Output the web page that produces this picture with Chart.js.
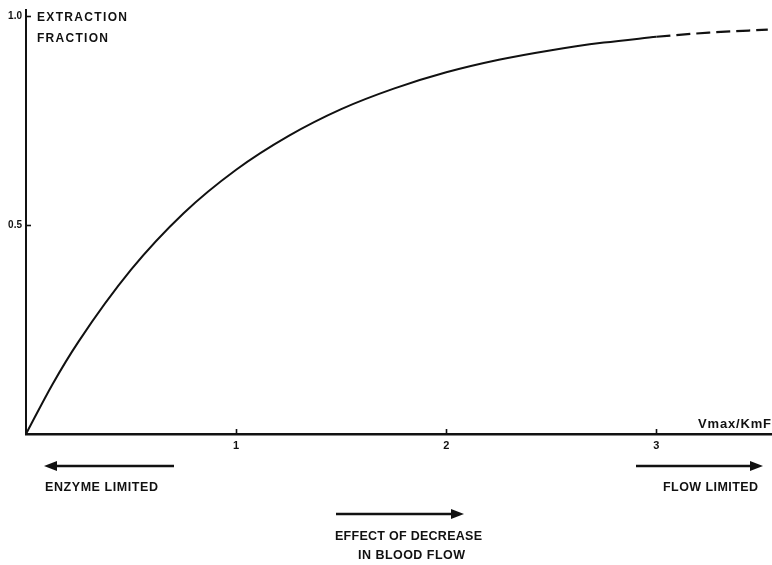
<!DOCTYPE html>
<html>
<head>
<meta charset="utf-8">
<script src="https://cdn.jsdelivr.net/npm/chart.js@4/dist/chart.umd.min.js"></script>
<style>
  html, body { margin: 0; padding: 0; background: #fff; }
  #wrap { width: 772px; height: 565px; position: relative; }
</style>
</head>
<body>
<div id="wrap"><canvas id="c" width="772" height="565"></canvas></div>
<script>
// ---- data ----
const xSolid = [0, 0.125, 0.25, 0.5, 0.75, 1.0, 1.25, 1.5, 1.75, 2.0, 2.25, 2.5, 2.75, 3.0];
const ySolid = [0, 0.118, 0.221, 0.393, 0.528, 0.632, 0.713, 0.777, 0.826, 0.865, 0.895, 0.918, 0.936, 0.950];
const xDashed = [3.0, 3.25, 3.53];
const yDashed = [0.950, 0.960, 0.967];
const xTickValues = [1, 2, 3];
const yTickValues = [0.5, 1.0];
const yTitleLines = ['EXTRACTION', 'FRACTION'];
const xTitle = 'Vmax/KmF';
const leftNote = 'ENZYME LIMITED';
const rightNote = 'FLOW LIMITED';
const middleNote = ['EFFECT OF DECREASE', 'IN BLOOD FLOW'];

const FONT = '"Liberation Sans", Arial, Helvetica, sans-serif';

function spacedText(ctx, text, x, y, size, targetW, align) {
  ctx.save();
  ctx.font = 'bold ' + size + 'px ' + FONT;
  ctx.letterSpacing = '0px';
  const w = ctx.measureText(text).width;
  const sp = (targetW - w) / Math.max(1, text.length - 1);
  ctx.letterSpacing = sp + 'px';
  ctx.textBaseline = 'alphabetic';
  ctx.textAlign = 'left';
  let sx = x;
  if (align === 'right') sx = x - targetW;
  ctx.fillStyle = '#111';
  ctx.fillText(text, sx, y);
  ctx.restore();
}

function arrow(ctx, x1, x2, y) {
  const dir = Math.sign(x2 - x1);
  const head = 13, half = 5;
  ctx.save();
  ctx.strokeStyle = '#111';
  ctx.fillStyle = '#111';
  ctx.lineWidth = 2.4;
  ctx.beginPath();
  ctx.moveTo(x1, y);
  ctx.lineTo(x2 - dir * head, y);
  ctx.stroke();
  ctx.beginPath();
  ctx.moveTo(x2, y);
  ctx.lineTo(x2 - dir * head, y - half);
  ctx.lineTo(x2 - dir * head, y + half);
  ctx.closePath();
  ctx.fill();
  ctx.restore();
}

const decor = {
  id: 'decor',
  afterDraw(chart) {
    const ctx = chart.ctx;
    const xs = chart.scales.x, ys = chart.scales.y;
    const ca = chart.chartArea;
    ctx.save();
    ctx.strokeStyle = '#111';
    ctx.lineWidth = 1.6;
    xTickValues.forEach(v => {
      const px = Math.round(xs.getPixelForValue(v)) + 0.5;
      ctx.beginPath(); ctx.moveTo(px, ca.bottom); ctx.lineTo(px, ca.bottom - 5); ctx.stroke();
    });
    yTickValues.forEach(v => {
      const py = Math.round(ys.getPixelForValue(v)) + 0.5;
      ctx.beginPath(); ctx.moveTo(ca.left, py); ctx.lineTo(ca.left + 5, py); ctx.stroke();
    });
    ctx.restore();
    spacedText(ctx, yTitleLines[0], 37, 21, 12, 90);
    spacedText(ctx, yTitleLines[1], 37, 42, 12, 71);
    spacedText(ctx, xTitle, ca.right - 1, 428, 13, 73, 'right');
    arrow(ctx, 174, 44, 466);
    spacedText(ctx, leftNote, 45, 491, 12.5, 113);
    arrow(ctx, 636, 763, 466);
    spacedText(ctx, rightNote, 663, 491, 12.5, 95);
    arrow(ctx, 336, 464, 514);
    spacedText(ctx, middleNote[0], 335, 540, 12.5, 147);
    spacedText(ctx, middleNote[1], 358, 559, 12.5, 107);
  }
};

new Chart(document.getElementById('c'), {
  type: 'line',
  data: {
    datasets: [
      {
        data: xSolid.map((x, i) => ({ x, y: ySolid[i] })),
        borderColor: '#111', borderWidth: 2, pointRadius: 0,
        cubicInterpolationMode: 'monotone', fill: false
      },
      {
        data: xDashed.map((x, i) => ({ x, y: yDashed[i] })),
        borderColor: '#111', borderWidth: 2.2, pointRadius: 0,
        borderDash: [14, 6], cubicInterpolationMode: 'monotone', fill: false
      }
    ]
  },
  options: {
    responsive: false,
    animation: false,
    devicePixelRatio: 1,
    layout: { padding: { top: 10, right: 0, left: 0, bottom: 0 } },
    plugins: { legend: { display: false }, tooltip: { enabled: false }, title: { display: false } },
    scales: {
      x: {
        type: 'linear', min: 0, max: 3.55,
        afterBuildTicks: s => { s.ticks = xTickValues.map(v => ({ value: v })); },
        afterFit: s => { s.height = 131; },
        grid: { display: false, drawTicks: false },
        border: { display: true, color: '#111', width: 2.5 },
        ticks: {
          color: '#111', padding: 5, maxRotation: 0,
          font: { family: FONT, size: 11, weight: 'bold' },
          callback: v => String(v)
        }
      },
      y: {
        type: 'linear', min: 0, max: 1.014,
        afterBuildTicks: s => { s.ticks = yTickValues.map(v => ({ value: v })); },
        afterFit: s => { s.width = 26; },
        grid: { display: false, drawTicks: false },
        border: { display: true, color: '#111', width: 2 },
        ticks: {
          color: '#111', padding: 4,
          font: { family: FONT, size: 10, weight: 'bold' },
          callback: v => Number(v).toFixed(1)
        }
      }
    }
  },
  plugins: [decor]
});
</script>
</body>
</html>
